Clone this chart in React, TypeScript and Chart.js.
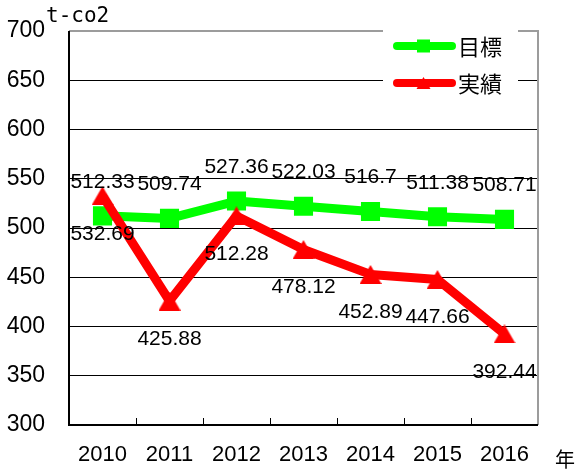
import React, { useEffect, useRef } from "react";
import { Chart, registerables } from "chart.js";

Chart.register(...registerables);

const categories = ["2010", "2011", "2012", "2013", "2014", "2015", "2016"];
const targetValues = [512.33, 509.74, 527.36, 522.03, 516.7, 511.38, 508.71];
const actualValues = [532.69, 425.88, 512.28, 478.12, 452.89, 447.66, 392.44];
const seriesNames = ["目標", "実績"];
const seriesColors = ["#00ff00", "#ff0000"];
const yMin = 300;
const yMax = 700;
const yStep = 50;
const yUnitLabel = "t-co2";
const xUnitLabel = "年";

const FONT = '"Liberation Sans", "Noto Sans CJK JP", sans-serif';
const CJK = '"Noto Sans CJK JP", "Liberation Sans", sans-serif';

function makeTriangle(color: string, w: number, h: number) {
  const c = document.createElement("canvas");
  c.width = w;
  c.height = h;
  const g = c.getContext("2d")!;
  g.fillStyle = color;
  g.beginPath();
  g.moveTo(w / 2, 0);
  g.lineTo(w, h);
  g.lineTo(0, h);
  g.closePath();
  g.fill();
  return c;
}

const decorPlugin = {
  id: "decor",
  beforeDatasetsDraw(chart: any) {
    const { ctx, chartArea } = chart;
    const { left, right, top, bottom } = chartArea;
    const xs = chart.scales.x;
    ctx.save();
    ctx.strokeStyle = "#9c9c9c";
    ctx.lineWidth = 2;
    ctx.beginPath();
    ctx.moveTo(left, top);
    ctx.lineTo(right, top);
    ctx.lineTo(right, bottom);
    ctx.stroke();
    ctx.strokeStyle = "#000";
    ctx.beginPath();
    ctx.moveTo(left, top);
    ctx.lineTo(left, bottom);
    ctx.lineTo(right, bottom);
    ctx.stroke();
    ctx.lineWidth = 1;
    for (let i = 1; i < categories.length; i++) {
      const x = Math.round((xs.getPixelForValue(i - 1) + xs.getPixelForValue(i)) / 2) + 0.5;
      ctx.beginPath();
      ctx.moveTo(x, bottom);
      ctx.lineTo(x, bottom - 7);
      ctx.stroke();
    }
    ctx.restore();
  },
  afterDatasetsDraw(chart: any) {
    const { ctx } = chart;
    ctx.save();
    ctx.fillStyle = "#000";
    ctx.font = `21px ${FONT}`;
    ctx.textAlign = "center";
    ctx.textBaseline = "middle";
    chart.data.datasets.forEach((ds: any, di: number) => {
      const meta = chart.getDatasetMeta(di);
      meta.data.forEach((pt: any, i: number) => {
        const v = ds.data[i];
        const dy = di === 0 ? -34 : 38;
        ctx.fillText(String(v), pt.x, pt.y + dy);
      });
    });
    ctx.restore();
  },
  afterDraw(chart: any) {
    const { ctx } = chart;
    ctx.save();
    ctx.fillStyle = "#fff";
    ctx.fillRect(383, 24, 135, 74);
    const rows = [46, 83];
    seriesNames.forEach((name, i) => {
      const y = rows[i];
      ctx.strokeStyle = seriesColors[i];
      ctx.lineWidth = 8;
      ctx.lineCap = "round";
      ctx.beginPath();
      ctx.moveTo(397, y);
      ctx.lineTo(452, y);
      ctx.stroke();
      ctx.fillStyle = seriesColors[i];
      if (i === 0) {
        ctx.fillRect(417, y - 6.5, 13, 13);
      } else {
        ctx.beginPath();
        ctx.moveTo(423.5, y - 6);
        ctx.lineTo(430.5, y + 6);
        ctx.lineTo(416.5, y + 6);
        ctx.closePath();
        ctx.fill();
      }
      ctx.fillStyle = "#000";
      ctx.font = `22px ${CJK}`;
      ctx.textAlign = "left";
      ctx.textBaseline = "middle";
      ctx.fillText(name, 458, y + 1);
    });
    ctx.fillStyle = "#000";
    ctx.font = `21px "DejaVu Sans Mono", monospace`;
    ctx.textAlign = "left";
    ctx.textBaseline = "middle";
    ctx.fillText(yUnitLabel, 46, 17);
    ctx.font = `20px ${CJK}`;
    ctx.textAlign = "center";
    ctx.fillText(xUnitLabel, 565, 459);
    ctx.restore();
  },
};

export default function App() {
  const ref = useRef<HTMLCanvasElement | null>(null);
  useEffect(() => {
    if (!ref.current) return;
    const tri = makeTriangle(seriesColors[1], 22, 19);
    const chart = new Chart(ref.current, {
      type: "line",
      data: {
        labels: categories,
        datasets: [
          {
            label: seriesNames[0],
            data: targetValues,
            borderColor: seriesColors[0],
            backgroundColor: seriesColors[0],
            borderWidth: 9,
            pointStyle: "rect",
            pointRadius: 13.5,
            pointBorderWidth: 0,
            pointBackgroundColor: seriesColors[0],
            tension: 0,
            borderJoinStyle: "round",
            order: 1,
          },
          {
            label: seriesNames[1],
            data: actualValues,
            borderColor: seriesColors[1],
            backgroundColor: seriesColors[1],
            borderWidth: 9,
            pointStyle: tri,
            pointRadius: 12,
            pointBorderWidth: 0,
            pointBackgroundColor: seriesColors[1],
            tension: 0,
            borderJoinStyle: "round",
            order: 0,
          },
        ],
      },
      options: {
        animation: false,
        responsive: true,
        maintainAspectRatio: false,
        layout: { padding: { left: 0, top: 31, right: 40, bottom: 0 } },
        plugins: {
          legend: { display: false },
          tooltip: { enabled: false },
        },
        scales: {
          x: {
            type: "category",
            offset: true,
            grid: { display: false, drawTicks: false },
            border: { display: false },
            ticks: {
              color: "#000",
              font: { family: FONT, size: 22 },
              padding: 17,
              maxRotation: 0,
              autoSkip: false,
            },
            afterFit(scale: any) {
              scale.height = 46;
              scale.paddingLeft = 0;
              scale.paddingRight = 0;
            },
          },
          y: {
            min: yMin,
            max: yMax,
            grid: {
              drawTicks: false,
              color: (c: any) =>
                c.tick && (c.tick.value === yMin || c.tick.value === yMax) ? "rgba(0,0,0,0)" : "#000",
              lineWidth: 1,
            },
            border: { display: false },
            ticks: {
              stepSize: yStep,
              color: "#000",
              font: { family: FONT, size: 23 },
              padding: 24,
            },
            afterFit(scale: any) {
              scale.width = 69;
              scale.paddingTop = 0;
              scale.paddingBottom = 0;
            },
          },
        },
      },
      plugins: [decorPlugin],
    });
    return () => chart.destroy();
  }, []);
  return (
    <div style={{ position: "absolute", left: 0, top: 0, width: 578, height: 471, background: "#fff" }}>
      <canvas ref={ref} />
    </div>
  );
}
